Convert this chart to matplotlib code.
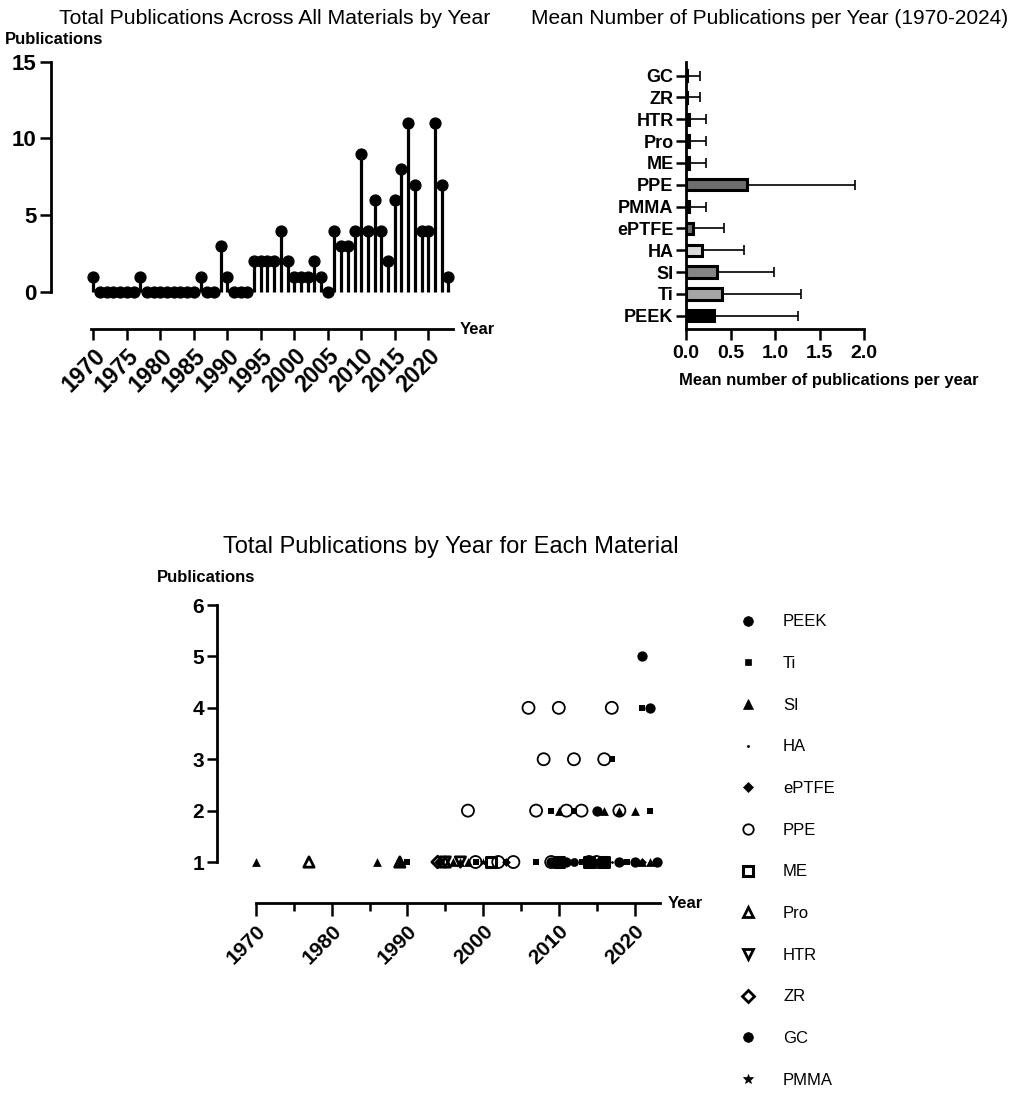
import numpy as np
import matplotlib.pyplot as plt
from matplotlib.lines import Line2D

plt.rcParams['font.family'] = ['Liberation Sans', 'DejaVu Sans']

W, H = 1022, 1094

# ---- data: totals across all materials ----
years = np.arange(1970, 2024)
total_pubs = [1, 0, 0, 0, 0, 0, 0, 1, 0, 0, 0, 0, 0, 0, 0, 0, 1, 0, 0, 3, 1, 0, 0, 0,
              2, 2, 2, 2, 4, 2, 1, 1, 1, 2, 1, 0,
              4, 3, 3, 4, 9, 4, 6, 4, 2, 6, 8, 11, 7, 4, 4, 11, 7, 1]

# ---- data: mean per year (bars, bottom to top) ----
materials = ['PEEK', 'Ti', 'SI', 'HA', 'ePTFE', 'PMMA', 'PPE', 'ME', 'Pro', 'HTR', 'ZR', 'GC']
mean_pubs = [0.31, 0.40, 0.35, 0.18, 0.08, 0.03, 0.68, 0.03, 0.03, 0.03, 0.012, 0.012]
sd_pubs = [0.95, 0.89, 0.64, 0.47, 0.35, 0.20, 1.22, 0.20, 0.20, 0.20, 0.145, 0.145]
bar_colors = ['black', '#a6a6a6', '#858585', '#d9d9d9', '#737373', 'black',
              '#6e6e6e', 'black', 'black', 'black', 'black', 'black']

# ---- data: publications by year for each material ----
peek_years = [2009, 2010, 2011, 2014, 2015, 2016, 2018, 2020, 2021, 2022, 2023]
peek_pubs = [1, 1, 1, 1, 2, 1, 1, 1, 5, 4, 1]
ti_years = [1990, 1999, 2003, 2007, 2009, 2010, 2012, 2013, 2015, 2016, 2017, 2019, 2021, 2022]
ti_pubs = [1, 1, 1, 1, 2, 1, 2, 1, 1, 1, 3, 1, 4, 2]
si_years = [1970, 1986, 1989, 1996, 1997, 1998, 2010, 2015, 2016, 2018, 2020, 2021, 2022]
si_pubs = [1, 1, 1, 1, 1, 1, 2, 1, 2, 2, 2, 1, 1]
ha_years = [1989, 1996, 1998, 2009, 2011, 2015, 2017]
ha_pubs = [1, 1, 1, 1, 1, 1, 1]
eptfe_years = [1994, 2003, 2010, 2021]
eptfe_pubs = [1, 1, 1, 1]
ppe_years = [1998, 1999, 2002, 2004, 2006, 2007, 2008, 2009, 2010, 2011, 2012, 2013,
             2014, 2015, 2016, 2017, 2018]
ppe_pubs = [2, 1, 1, 1, 4, 2, 3, 1, 4, 2, 3, 2, 1, 1, 3, 4, 2]
me_years = [2001, 2010, 2014, 2016]
me_pubs = [1, 1, 1, 1]
pro_years = [1977, 1989, 1995]
pro_pubs = [1, 1, 1]
htr_years = [1995, 1997]
htr_pubs = [1, 1]
zr_years = [1994]
zr_pubs = [1]
gc_years = [2012]
gc_pubs = [1]
pmma_years = [2000, 2015]
pmma_pubs = [1, 1]

fig = plt.figure(figsize=(W / 100, H / 100), dpi=100)


def box(l, t, r, b):
    return [l / W, 1 - b / H, (r - l) / W, (b - t) / H]


def px2pt(p):
    return p * 72 / 100


def style(ax, xsize, ysize):
    for s in ['top', 'right']:
        ax.spines[s].set_visible(False)
    for s in ['left', 'bottom']:
        ax.spines[s].set_linewidth(2)
    ax.tick_params(width=1.8)
    ax.tick_params(axis='x', labelsize=xsize)
    ax.tick_params(axis='y', labelsize=ysize)
    for lab in ax.get_xticklabels() + ax.get_yticklabels():
        lab.set_fontweight('bold')


# ---------- top left: stem plot ----------
ax1 = fig.add_axes(box(90.7, 61.7, 453, 302.7))
ax1.vlines(years, 0, total_pubs, color='black', lw=2.3)
ax1.plot(years, total_pubs, 'o', color='black', ms=7.8, clip_on=False)
ax1.set_xlim(1969.6, 2023.7)
ax1.set_ylim(-0.7, 15)
ax1.set_yticks([0, 5, 10, 15])
ax1.set_xticks(np.arange(1970, 2021, 5))
ax1.spines['left'].set_bounds(0, 15)
ax1.spines['left'].set_position(('outward', px2pt(40)))
ax1.spines['bottom'].set_position(('outward', px2pt(26.6)))
ax1.tick_params(axis='y', length=8, pad=2)
ax1.tick_params(axis='x', length=8, pad=3)
style(ax1, 16.5, 16)
plt.setp(ax1.get_xticklabels(), rotation=45, ha='right', rotation_mode='anchor')

fig.text(275 / W, 1 - 18 / H, 'Total Publications Across All Materials by Year',
         ha='center', va='center', fontsize=15.3)
fig.text(5 / W, 1 - 40 / H, 'Publications', ha='left', va='center',
         fontsize=12, fontweight='bold')
fig.text(460 / W, 1 - 330 / H, 'Year', ha='left', va='center',
         fontsize=12, fontweight='bold')

# ---------- top right: mean bars ----------
ax2 = fig.add_axes(box(686, 61.7, 864, 329.3))
ypos = np.arange(len(materials))
ax2.barh(ypos, mean_pubs, height=0.52, color=bar_colors, edgecolor='black', linewidth=2.2)
ax2.errorbar(mean_pubs, ypos, xerr=[np.zeros(len(materials)), sd_pubs], fmt='none',
             ecolor='black', elinewidth=1.2, capsize=3.5, capthick=1.2)
ax2.set_xlim(0, 2)
ax2.set_ylim(-0.62, 11.64)
ax2.set_yticks(ypos)
ax2.set_yticklabels(materials)
ax2.set_xticks([0, 0.5, 1.0, 1.5, 2.0])
ax2.set_xticklabels(['0.0', '0.5', '1.0', '1.5', '2.0'])
ax2.tick_params(axis='x', length=8)
ax2.tick_params(axis='y', length=7, pad=2)
style(ax2, 14, 13)

fig.text(770 / W, 1 - 18 / H, 'Mean Number of Publications per Year (1970-2024)',
         ha='center', va='center', fontsize=15)
fig.text(829 / W, 1 - 381 / H, 'Mean number of publications per year',
         ha='center', va='center', fontsize=12, fontweight='bold')

# ---------- bottom: scatter by material ----------
ax3 = fig.add_axes(box(248.4, 599.9, 661, 872.3))
series = [
    ('PEEK', peek_years, peek_pubs, dict(marker='o', s=55, facecolor='black', edgecolor='black', lw=0)),
    ('Ti', ti_years, ti_pubs, dict(marker='s', s=24, facecolor='black', edgecolor='black', lw=0)),
    ('SI', si_years, si_pubs, dict(marker='^', s=40, facecolor='black', edgecolor='black', lw=0)),
    ('HA', ha_years, ha_pubs, dict(marker='o', s=4, facecolor='black', edgecolor='black', lw=0)),
    ('ePTFE', eptfe_years, eptfe_pubs, dict(marker='D', s=20, facecolor='black', edgecolor='black', lw=0)),
    ('PPE', ppe_years, ppe_pubs, dict(marker='o', s=75, facecolor='none', edgecolor='black', lw=1.3)),
    ('ME', me_years, me_pubs, dict(marker='s', s=50, facecolor='none', edgecolor='black', lw=2.2)),
    ('Pro', pro_years, pro_pubs, dict(marker='^', s=55, facecolor='none', edgecolor='black', lw=2)),
    ('HTR', htr_years, htr_pubs, dict(marker='v', s=55, facecolor='none', edgecolor='black', lw=2)),
    ('ZR', zr_years, zr_pubs, dict(marker='D', s=35, facecolor='none', edgecolor='black', lw=2)),
    ('GC', gc_years, gc_pubs, dict(marker='o', s=40, facecolor='black', edgecolor='black', lw=0)),
    ('PMMA', pmma_years, pmma_pubs, dict(marker='*', s=40, facecolor='black', edgecolor='black', lw=0)),
]
for name, yy, pp, kw in series:
    ax3.scatter(yy, pp, clip_on=False, **kw)

ax3.set_xlim(1969, 2023.5)
ax3.set_ylim(0.8, 6.1)
ax3.set_yticks([1, 2, 3, 4, 5, 6])
ax3.set_xticks(np.arange(1970, 2021, 10))
ax3.set_xticks(np.arange(1975, 2021, 10), minor=True)
ax3.spines['left'].set_bounds(1, 6)
ax3.spines['bottom'].set_bounds(1970, 2023.4)
ax3.spines['left'].set_position(('outward', px2pt(31.7)))
ax3.spines['bottom'].set_position(('outward', px2pt(31)))
ax3.tick_params(axis='x', which='major', length=9.5, width=1.8)
ax3.tick_params(axis='x', which='minor', length=6, width=1.8)
ax3.tick_params(axis='y', length=7, pad=2)
style(ax3, 15, 15)
plt.setp(ax3.get_xticklabels(), rotation=45, ha='right', rotation_mode='anchor')

leg_sizes = {'PEEK': 7, 'Ti': 5, 'SI': 6.5, 'HA': 1.5, 'ePTFE': 5, 'PPE': 7.5,
             'ME': 7.5, 'Pro': 7.5, 'HTR': 7.5, 'ZR': 6, 'GC': 7, 'PMMA': 7}
handles = []
for name, yy, pp, kw in series:
    fc = kw['facecolor']
    mew = kw['lw'] if kw['lw'] > 0 else 0.5
    handles.append(Line2D([], [], linestyle='none', marker=kw['marker'],
                          markersize=leg_sizes[name], markerfacecolor=fc,
                          markeredgecolor='black', markeredgewidth=mew, label=name))
ax3.legend(handles=handles, loc='upper left', bbox_to_anchor=(739.7 / W, 1 - 614.4 / H),
           bbox_transform=fig.transFigure, frameon=False, fontsize=12,
           labelspacing=1.6, handlelength=1.0, handletextpad=1.6,
           borderpad=0, borderaxespad=0)

fig.text(451 / W, 1 - 547 / H, 'Total Publications by Year for Each Material',
         ha='center', va='center', fontsize=17)
fig.text(157 / W, 1 - 578 / H, 'Publications', ha='left', va='center',
         fontsize=12, fontweight='bold')
fig.text(668 / W, 1 - 903 / H, 'Year', ha='left', va='center',
         fontsize=12, fontweight='bold')

fig.savefig('out.png', dpi=100)
